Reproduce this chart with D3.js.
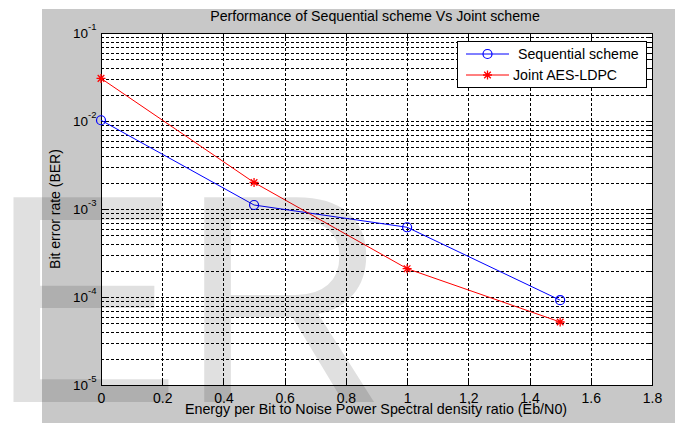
<!DOCTYPE html>
<html>
<head>
<meta charset="utf-8">
<script src="https://cdn.jsdelivr.net/npm/d3@7"></script>
<style>
  body { margin: 0; background: #fff; }
  svg { display: block; font-family: "Liberation Sans", Arial, sans-serif; }
</style>
</head>
<body>
<div id="chart"></div>
<script>
// data
const ebn0 = [0, 0.5, 1, 1.5];
const sequential = [0.0102, 0.00111, 0.00062, 0.000092];
const jointAes = [0.0305, 0.002, 0.00021, 0.000052];
const xTicks = [0, 0.2, 0.4, 0.6, 0.8, 1, 1.2, 1.4, 1.6, 1.8];
const yDecades = [-5, -4, -3, -2, -1];
const seriesNames = ['Sequential scheme', 'Joint AES-LDPC'];

const W = 675, H = 423;
const M = { left: 101, right: 652, top: 33, bottom: 385 };

const svg = d3.select('#chart').append('svg')
  .attr('width', W).attr('height', H);

// figure background (grey panel)
svg.append('rect').attr('x', 42).attr('y', 9)
  .attr('width', W - 42).attr('height', H - 9).attr('fill', '#c8c8c8');

const x = d3.scaleLinear().domain([0, 1.8]).range([M.left, M.right]);
const y = d3.scaleLog().domain([1e-5, 1e-1]).range([M.bottom, M.top]);

svg.append('rect')
  .attr('x', M.left).attr('y', M.top)
  .attr('width', M.right - M.left).attr('height', M.bottom - M.top)
  .attr('fill', '#fff');

// minor log values
const minor = [];
yDecades.slice(0, -1).forEach((e) => {
  for (let k = 1; k <= 9; k++) minor.push(k * Math.pow(10, e));
});
minor.push(1e-1);
const isDecade = (d) => Math.abs(Math.log10(d) - Math.round(Math.log10(d))) < 1e-9;

const grid = svg.append('g').attr('stroke', '#000').attr('stroke-width', 1)
  .attr('stroke-dasharray', '3,2').attr('shape-rendering', 'crispEdges');
grid.selectAll('.gx').data(xTicks.slice(1, -1)).join('line')
  .attr('class', 'gx')
  .attr('x1', (d) => Math.round(x(d)) + 0.5).attr('x2', (d) => Math.round(x(d)) + 0.5)
  .attr('y1', M.top).attr('y2', M.bottom);
grid.selectAll('.gy').data(minor.filter((d) => d > 1e-5 && d < 1e-1)).join('line')
  .attr('class', 'gy')
  .attr('y1', (d) => Math.round(y(d)) + 0.5).attr('y2', (d) => Math.round(y(d)) + 0.5)
  .attr('x1', M.left).attr('x2', M.right);

// axes box with inward ticks on all sides
const axG = svg.append('g').attr('shape-rendering', 'crispEdges');
axG.append('g').attr('transform', `translate(0,${M.bottom})`)
  .call(d3.axisBottom(x).tickValues(xTicks).tickSizeInner(-5).tickSizeOuter(0).tickFormat(d3.format('')))
  .call((g) => g.selectAll('text').attr('y', 8).attr('font-size', 14).attr('fill', '#000')
    .attr('font-family', '"Liberation Sans", Arial, sans-serif'));
axG.append('g').attr('transform', `translate(0,${M.top})`)
  .call(d3.axisTop(x).tickValues(xTicks).tickSizeInner(-5).tickSizeOuter(0).tickFormat(''));
axG.append('g').attr('transform', `translate(${M.left},0)`)
  .call(d3.axisLeft(y).tickValues(minor).tickSizeInner(-3).tickSizeOuter(0).tickFormat(''))
  .call((g) => g.selectAll('.tick line').filter(isDecade).attr('x2', 6));
axG.append('g').attr('transform', `translate(${M.right},0)`)
  .call(d3.axisRight(y).tickValues(minor).tickSizeInner(-3).tickSizeOuter(0).tickFormat(''))
  .call((g) => g.selectAll('.tick line').filter(isDecade).attr('x2', -6));
axG.selectAll('.domain').attr('stroke', '#000');
axG.selectAll('.tick line').attr('stroke', '#000');
axG.append('rect').attr('x', M.left + 0.5).attr('y', M.top + 0.5)
  .attr('width', M.right - M.left).attr('height', M.bottom - M.top)
  .attr('fill', 'none').attr('stroke', '#000');

// y tick labels 10^n
const yl = svg.append('g').attr('fill', '#000');
yDecades.forEach((e) => {
  yl.append('text').attr('x', 88).attr('y', y(Math.pow(10, e)) + 5)
    .attr('text-anchor', 'end').attr('font-size', 13.5).text('10');
  yl.append('text').attr('x', 88).attr('y', y(Math.pow(10, e)) - 3)
    .attr('font-size', 9.5).text(e);
});

// series
const line = d3.line().x((d) => x(d[0])).y((d) => y(d[1]));
const seqPts = ebn0.map((v, i) => [v, sequential[i]]);
const jointPts = ebn0.map((v, i) => [v, jointAes[i]]);

svg.append('path').datum(seqPts).attr('d', line)
  .attr('fill', 'none').attr('stroke', '#0000ff').attr('stroke-width', 1);
svg.append('path').datum(jointPts).attr('d', line)
  .attr('fill', 'none').attr('stroke', '#ff0000').attr('stroke-width', 1);

function circleMark(g, cx, cy) {
  g.append('circle').attr('cx', cx).attr('cy', cy).attr('r', 4.5)
    .attr('fill', 'none').attr('stroke', '#0000ff').attr('stroke-width', 1.2);
}
function starMark(g, cx, cy) {
  const s = 4.5, d = 3.3;
  g.append('path')
    .attr('d', `M${cx - s},${cy}H${cx + s}M${cx},${cy - s}V${cy + s}` +
      `M${cx - d},${cy - d}L${cx + d},${cy + d}M${cx - d},${cy + d}L${cx + d},${cy - d}`)
    .attr('stroke', '#ff0000').attr('stroke-width', 1.3).attr('fill', 'none');
}
const marks = svg.append('g');
seqPts.forEach((p) => circleMark(marks, x(p[0]), y(p[1])));
jointPts.forEach((p) => starMark(marks, x(p[0]), y(p[1])));

// legend
const lg = svg.append('g');
lg.append('rect').attr('x', 457.5).attr('y', 41.5).attr('width', 189).attr('height', 46)
  .attr('fill', '#fff').attr('stroke', '#000');
lg.append('line').attr('x1', 466).attr('x2', 509).attr('y1', 54).attr('y2', 54)
  .attr('stroke', '#0000ff');
circleMark(lg, 487.5, 54);
lg.append('text').attr('x', 518).attr('y', 59).attr('font-size', 14.2).text(seriesNames[0]);
lg.append('line').attr('x1', 466).attr('x2', 509).attr('y1', 75).attr('y2', 75)
  .attr('stroke', '#ff0000');
starMark(lg, 487.5, 75);
lg.append('text').attr('x', 513).attr('y', 80).attr('font-size', 14.2).text(seriesNames[1]);

// title and axis labels
svg.append('text').attr('x', 375).attr('y', 21).attr('text-anchor', 'middle')
  .attr('font-size', 14.2).text('Performance of Sequential scheme Vs Joint scheme');
svg.append('text').attr('x', 376).attr('y', 414).attr('text-anchor', 'middle')
  .attr('font-size', 14.3).text('Energy per Bit to Noise Power Spectral density ratio (Eb/N0)');
svg.append('text').attr('transform', 'translate(60,209) rotate(-90)')
  .attr('text-anchor', 'middle').attr('font-size', 14).text('Bit error rate (BER)');

// watermark
svg.append('text').attr('transform', 'translate(-10,402) scale(1,1.04)')
  .attr('font-size', 286).attr('fill', '#000').attr('fill-opacity', 0.12)
  .text('ER');
</script>
</body>
</html>
